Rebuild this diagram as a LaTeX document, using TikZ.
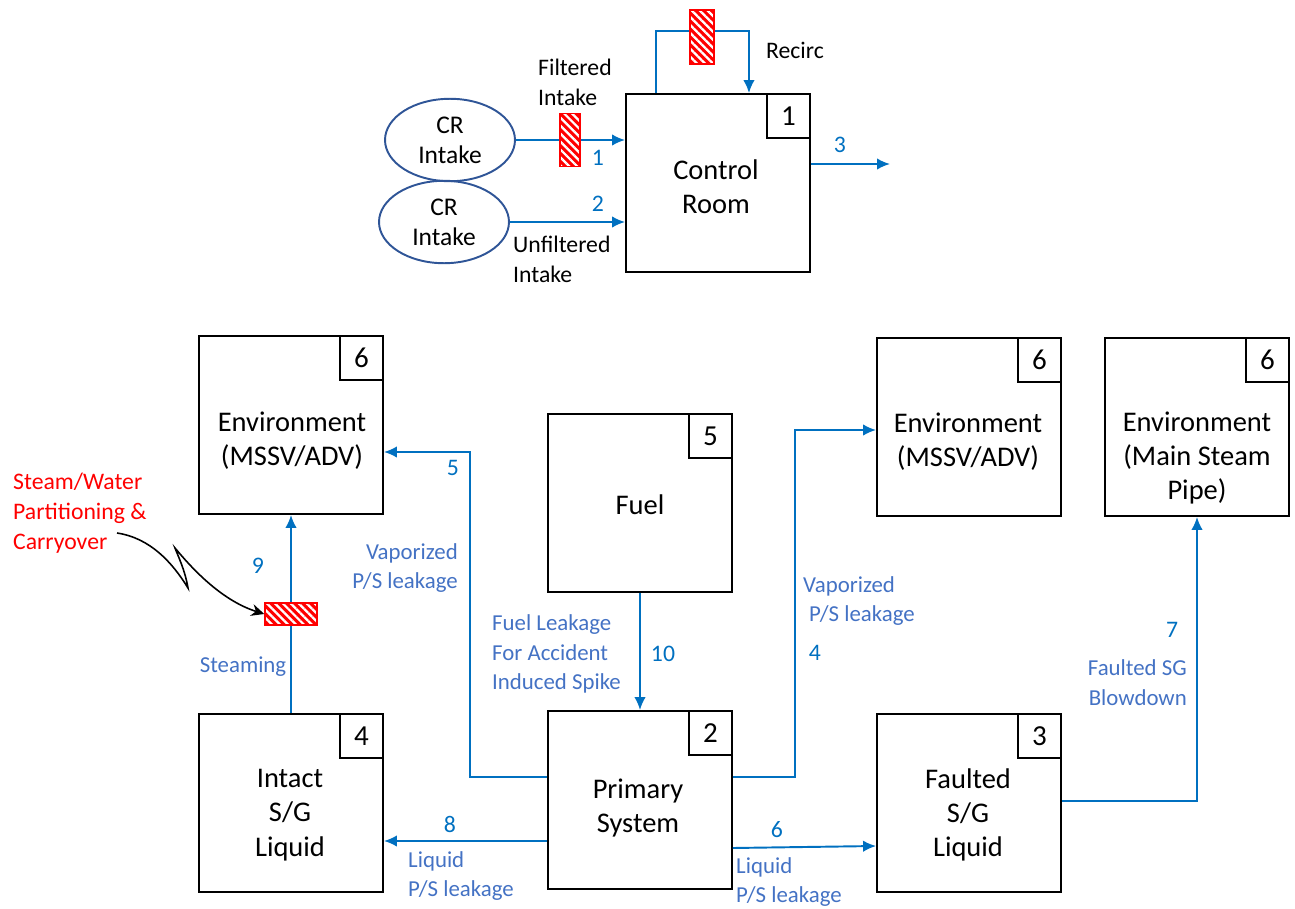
\documentclass[tikz,border=0pt]{standalone}
\usepackage{fontspec}
\setmainfont{Carlito}
\usetikzlibrary{shapes.geometric,arrows.meta,patterns.meta}

\definecolor{flowblue}{HTML}{0070C0}
\definecolor{lblblue}{HTML}{4472C4}
\definecolor{ellblue}{HTML}{2F5597}

\tikzset{
  blk/.style={draw,line width=1.1pt,minimum width=3.68cm,minimum height=3.56cm},
  numbox/.style={draw,line width=1.1pt,minimum width=0.86cm,minimum height=0.88cm,
    anchor=north east,font=\fontsize{16.5}{18}\selectfont},
  blktxt/.style={align=center,font=\fontsize{16.2}{19.5}\selectfont},
  intake/.style={ellipse,draw=ellblue,line width=1.1pt,minimum width=2.6cm,
    minimum height=1.48cm,align=center,font=\fontsize{14.5}{17}\selectfont},
  flow/.style={draw=flowblue,line width=1.1pt,-{Latex[length=2.6mm,width=2.3mm]}},
  lbl/.style={text=lblblue,font=\fontsize{13}{17}\selectfont},
  num/.style={text=flowblue,font=\fontsize{13.5}{17}\selectfont},
  filt/.style={draw=red,line width=0.8pt,preaction={fill=red},
    pattern={Lines[angle=-45,distance=3.2pt,line width=1.3pt]},pattern color=white}
}

\begin{document}
\begin{tikzpicture}[x=0.02cm,y=-0.02cm]
  \useasboundingbox (0,0) rectangle (1295,909);

  % control room part
  \node[blk] (cr) at (718,183) {};
  \node[numbox] (cr-n) at (cr.north east) {1};
  \node[blktxt] (cr-t) at (716,187) {Control\\Room};
  \node[intake] (in1) at (450,140) {CR\\Intake};
  \node[intake] (in2) at (444,222) {CR\\Intake};
  \coordinate (out3) at (890,164);

  \draw[flow] (in1.east) -- (cr.west |- in1.east);
  \draw[flow] (in2.east) -- (cr.west |- in2.east);
  \draw[flow] (cr.east |- out3) -- (out3);
  \draw[flow] ([xshift=0.62cm]cr.north west) -- ++(0,-62) -| ([xshift=-1.24cm]cr.north east);
  \node[filt,minimum width=0.4cm,minimum height=1.06cm] (f1) at (570,140) {};
  \node[filt,minimum width=0.48cm,minimum height=1.08cm] (frec) at (702,37) {};

  \node[align=left,anchor=west,font=\fontsize{13.5}{17}\selectfont] (t-fi) at (532,82) {Filtered\\Intake};
  \node[align=left,anchor=west,font=\fontsize{13.5}{17}\selectfont] (t-ui) at (507,259) {Unfiltered\\Intake};
  \node[font=\fontsize{13.5}{17}\selectfont] (t-rc) at (795,50) {Recirc};
  \node[num] (n1) at (598,158) {1};
  \node[num] (n2) at (598,204) {2};
  \node[num] (n3) at (840,145) {3};

  % plant part
  \node[blk] (envL) at (291,425) {};
  \node[numbox] (envL-n) at (envL.north east) {6};
  \node[blktxt] (envL-t) at (292,441) {Environment\\(MSSV/ADV)};
  \node[blk] (fuel) at (640,503) {};
  \node[numbox] (fuel-n) at (fuel.north east) {5};
  \node[blktxt] (fuel-t) at (640,505) {Fuel};
  \node[blk] (envM) at (969,427) {};
  \node[numbox] (envM-n) at (envM.north east) {6};
  \node[blktxt] (envM-t) at (968,442) {Environment\\(MSSV/ADV)};
  \node[blk] (envR) at (1197,427) {};
  \node[numbox] (envR-n) at (envR.north east) {6};
  \node[blktxt] (envR-t) at (1197,458) {Environment\\(Main Steam\\Pipe)};
  \node[blk] (intact) at (291,803) {};
  \node[numbox] (intact-n) at (intact.north east) {4};
  \node[blktxt] (intact-t) at (290,815) {Intact\\S/G\\Liquid};
  \node[blk] (prim) at (640,800) {};
  \node[numbox] (prim-n) at (prim.north east) {2};
  \node[blktxt] (prim-t) at (638,808) {Primary\\System};
  \node[blk] (fault) at (969,803) {};
  \node[numbox] (fault-n) at (fault.north east) {3};
  \node[blktxt] (fault-t) at (968,815) {Faulted\\S/G\\Liquid};

  \draw[flow] (prim.west |- 0,777) -| (470,452) -- (envL.east |- 0,452);
  \draw[flow] (fuel.south) -- (prim.north);
  \draw[flow] (prim.east |- 0,777) -| (795,430) -- (envM.west |- 0,430);
  \draw[flow] (prim.west |- 0,841) -- (intact.east |- 0,841);
  \draw[flow] (prim.east |- 0,848) -- (fault.west |- 0,846);
  \draw[flow] (fault.east |- 0,801) -| (envR.south);
  \draw[flow] (intact.north) -- (envL.south);
  \node[filt,minimum width=1.04cm,minimum height=0.44cm] (f9) at (291,614) {};

  \node[num] (n5) at (453,468) {5};
  \node[lbl,align=right,anchor=east] (t5) at (464,568) {Vaporized\\P/S leakage};
  \node[num] (n10) at (663,654) {10};
  \node[lbl,align=left,anchor=west] (t10) at (486,654) {Fuel Leakage\\For Accident\\Induced Spike};
  \node[num] (n4) at (815,653) {4};
  \node[lbl,align=left,anchor=west] (t4) at (797,601) {Vaporized\\\hspace{0.12cm}P/S leakage};
  \node[num] (n8) at (450,824) {8};
  \node[lbl,align=left,anchor=west] (t8) at (402,876) {Liquid\\P/S leakage};
  \node[num] (n6) at (777,830) {6};
  \node[lbl,align=left,anchor=west] (t6) at (730,882) {Liquid\\P/S leakage};
  \node[num] (n7) at (1172,630) {7};
  \node[lbl,align=right,anchor=east] (t7) at (1193,683) {Faulted SG\\Blowdown};
  \node[num] (n9) at (258,566) {9};
  \node[lbl] (t9) at (243,667) {Steaming};

  % carryover note
  \node[text=red,align=left,anchor=west,font=\fontsize{13.5}{17}\selectfont] (note) at (7,513)
    {Steam/Water\\Partitioning \&\\Carryover};
  \coordinate (carry) at (117,533);
  \draw[line width=0.9pt,-{Stealth[length=2.6mm,width=2.4mm]}] (carry)
    .. controls (150,538) and (172,562) .. (188,588)
    .. controls (185,570) and (178,556) .. (175,548)
    .. controls (190,566) and (220,600) .. (f9.west);
\end{tikzpicture}
\end{document}
